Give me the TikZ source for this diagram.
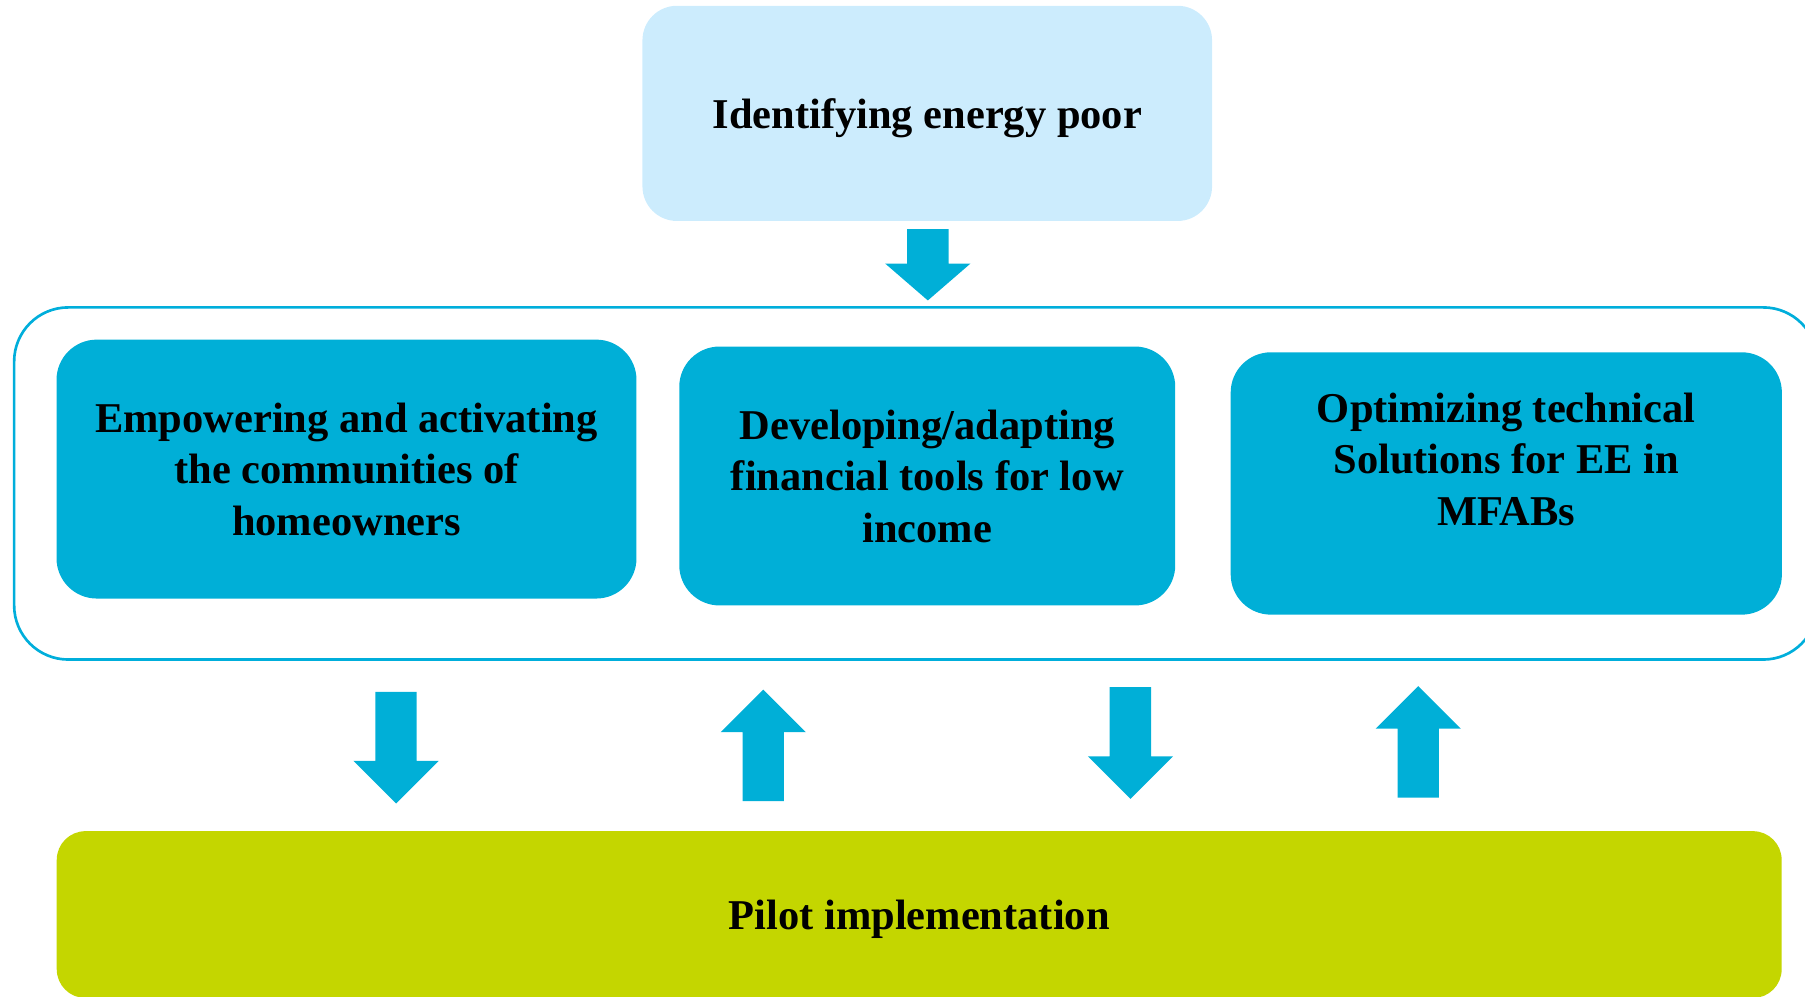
\documentclass[tikz,border=0pt]{standalone}
\usepackage{fontspec}
\setmainfont{Liberation Serif}
\usepackage{tikz}
\usetikzlibrary{positioning,calc}
\definecolor{idblue}{HTML}{CCECFD}
\definecolor{actblue}{HTML}{00AFD7}
\definecolor{framecyan}{HTML}{00AEDB}
\definecolor{pilotgreen}{HTML}{C4D600}

\begin{document}
\begin{tikzpicture}[
		x=0.016cm,y=-0.016cm,
		boxtext/.style={align=center, text=black, font=\bfseries\fontsize{16.8}{20.3}\selectfont},
		idbox/.style={boxtext, text depth=0pt, fill=idblue, rounded corners=0.48cm, minimum width=7.92cm, minimum height=2.992cm},
		actbox/.style={boxtext, text depth=0pt, fill=actblue, rounded corners=0.56cm, minimum height=3.6cm},
		pilotbox/.style={boxtext, text depth=0pt, fill=pilotgreen, rounded corners=0.4cm, minimum width=23.984cm, minimum height=2.32cm},
		frame/.style={draw=framecyan, line width=1.05pt, rounded corners=0.752cm, minimum width=25.072cm, minimum height=4.896cm},
		blockarrow/.style={fill=actblue}
		]
		\useasboundingbox (0,0) rectangle (1568,866);
		
		% ====== KHUNG TRÊN ======
		\node[idbox] (ident) at (805.5,98.5) {Identifying energy poor};
		
		% ====== KHUNG NGOÀI + 3 HỘP ======
		\node[frame] (group) at (795.5,420) {};
		
		\node[actbox, minimum width=8.064cm] (empow) at (301,407.5)
		{Empowering and activating\\
			the communities of\\
			homeowners};
		
		\node[actbox, minimum width=6.896cm] (finance) at (805.5,413.5)
		{Developing/adapting\\
			financial tools for low\\
			income};
		
		\node[actbox, minimum width=7.664cm, minimum height=3.648cm] (techsol) at (1308.5,420) {};
		\node[boxtext] (techtext) at (1308.5,399)
		{Optimizing technical\\
			Solutions for EE in\\
			MFABs};
		
		% ====== KHUNG DƯỚI ======
		\node[pilotbox] (pilot) at (798.5,794.5) {Pilot implementation};
		
		% ====== MŨI TÊN KHỐI (x, gốc, chân đầu, mũi) ======
		\foreach \ax/\ay/\hy/\ty in {806/199/229/261, 344/601/661/698, 663/696/636/599,
			982/597/657/694, 1232/693/633/596}
		\fill[blockarrow] (\ax-18,\ay) -- (\ax+18,\ay) -- (\ax+18,\hy) -- (\ax+37,\hy)
		-- (\ax,\ty) -- (\ax-37,\hy) -- (\ax-18,\hy) -- cycle;
		
\end{tikzpicture}
\end{document}
